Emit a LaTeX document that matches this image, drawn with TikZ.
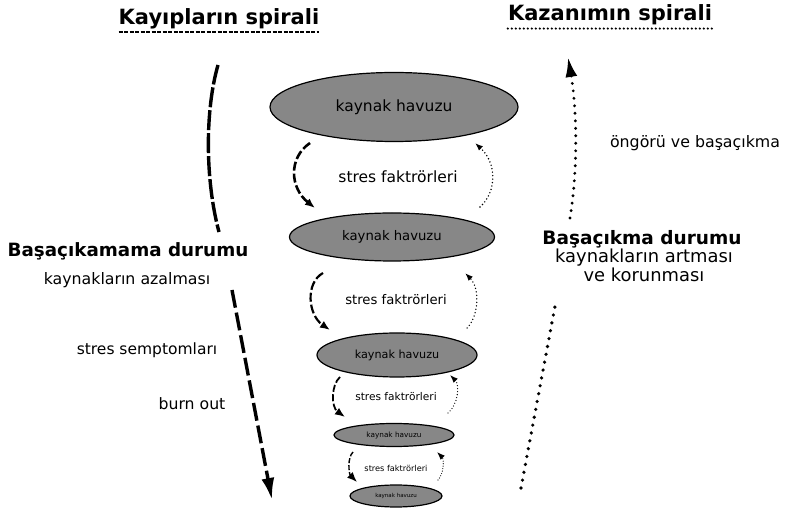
\documentclass[tikz,border=0pt]{standalone}
\usepackage{fontspec}
\setmainfont{DejaVu Sans}
\usepackage{xcolor}
\usetikzlibrary{arrows}
\usetikzlibrary{arrows.meta}
\usetikzlibrary{shapes.geometric}
\definecolor{poolgray}{RGB}{135,135,135}
\newcommand{\fsz}[1]{\fontsize{#1pt}{#1pt}\selectfont}

\tikzset{
pool/.style={ellipse, draw, line width=1.2, fill=poolgray, inner sep=0pt},
lbl/.style={anchor=base, inner sep=0pt},
title/.style={lbl, font=\bfseries\fsz{21}},
downarrow/.style={-{Latex[length=10pt,width=8pt]}, dash pattern=on 9pt off 3pt},
uparrow/.style={-{Latex[length=8pt,width=6pt]}, line cap=round, dash pattern=on 0pt off 3.5pt},
}

\begin{document}
\begin{tikzpicture}[x=1pt,y=-1pt]
\useasboundingbox (0,0) rectangle (788,510);

\node[title] (lossT) at (219,25) {Kayıpların spirali};
\node[title] (gainT) at (610,21) {Kazanımın spirali};
\draw[line width=1.8, dash pattern=on 4pt off 1.5pt] ([yshift=-2pt]lossT.south west) -- ([yshift=-2pt]lossT.south east);
\draw[line width=2.4, line cap=round, dash pattern=on 0pt off 4pt] ([yshift=-3pt]gainT.south west) -- ([yshift=-3pt]gainT.south east);

\node[pool, minimum width=248pt, minimum height=69pt, font=\fsz{15.5}] (P1) at (394,107) {kaynak havuzu};
\node[pool, minimum width=205pt, minimum height=48pt, font=\fsz{13.2}] (P2) at (392,237) {kaynak havuzu};
\node[pool, minimum width=160pt, minimum height=44pt, font=\fsz{11.2}] (P3) at (397,355) {kaynak havuzu};
\node[pool, minimum width=120pt, minimum height=23pt, font=\fsz{7.3}] (P4) at (394,435) {kaynak havuzu};
\node[pool, minimum width=92pt, minimum height=22pt, font=\fsz{5.5}] (P5) at (396,496) {kaynak havuzu};

\node[font=\fsz{15.5}] (S1) at (398,177) {stres faktrörleri};
\node[font=\fsz{13.2}] (S2) at (396,300) {stres faktrörleri};
\node[font=\fsz{10.6}] (S3) at (396,397) {stres faktrörleri};
\node[font=\fsz{8.2}] (S4) at (396,468) {stres faktrörleri};

\coordinate (d1a) at (310,143);
\coordinate (d1b) at (315,208);
\coordinate (u1a) at (480,207);
\coordinate (u1b) at (475,143);
\coordinate (d2a) at (323,273);
\coordinate (d2b) at (330,330);
\coordinate (u2a) at (467,328);
\coordinate (u2b) at (465,273);
\coordinate (d3a) at (340,377);
\coordinate (d3b) at (345,417);
\coordinate (u3a) at (448,413);
\coordinate (u3b) at (450,375);
\coordinate (d4a) at (353,452);
\coordinate (d4b) at (357,482);
\coordinate (u4a) at (438,480);
\coordinate (u4b) at (437,452);

\draw[downarrow, line width=2.6] (d1a) .. controls +(-22,15) and +(-25,-20) .. (d1b);
\draw[uparrow, line width=1.6] (u1a) .. controls +(17,-15) and +(22,20) .. (u1b);
\draw[downarrow, line width=2.2] (d2a) .. controls +(-18,10) and +(-22,-15) .. (d2b);
\draw[uparrow, line width=1.5] (u2a) .. controls +(12,-12) and +(15,15) .. (u2b);
\draw[downarrow, line width=1.8, dash pattern=on 7pt off 2.5pt] (d3a) .. controls +(-9,8) and +(-14,-10) .. (d3b);
\draw[uparrow, line width=1.3, dash pattern=on 0pt off 3pt] (u3a) .. controls +(10,-8) and +(10,10) .. (u3b);
\draw[downarrow, line width=1.4, dash pattern=on 5pt off 2pt] (d4a) .. controls +(-6,6) and +(-8,-8) .. (d4b);
\draw[uparrow, line width=1.2, dash pattern=on 0pt off 2.5pt] (u4a) .. controls +(6,-6) and +(7,7) .. (u4b);

\node[lbl, font=\bfseries\fsz{18.3}] (copeNo) at (128,257) {Başaçıkamama durumu};
\node[lbl, font=\fsz{15.8}] (copeNoSub) at (127,285) {kaynakların azalması};
\node[lbl, font=\fsz{15.5}] (symptoms) at (147,355) {stres semptomları};
\node[lbl, font=\fsz{15.7}] (burnout) at (192,410) {burn out};

\node[lbl, font=\bfseries\fsz{18.5}] (copeYes) at (642,245) {Başaçıkma durumu};
\node[lbl, font=\fsz{17.9}] (copeYesSub) at (644,263) {kaynakların artması};
\node[lbl, font=\fsz{17.9}] (copeYesSub2) at (644,282) {ve korunması};
\node[lbl, font=\fsz{15.8}] (foresight) at (695,148) {öngörü ve başaçıkma};

\coordinate (lossTop) at (218,65);
\coordinate (lossMid) at (219,232);
\coordinate (lossLow) at (232,290);
\coordinate (lossEnd) at (272,500);
\coordinate (gainLow) at (521,488);
\coordinate (gainMid) at (556,301);
\coordinate (gainLow2) at (570,218);
\coordinate (gainEnd) at (568,57);

\draw[line width=3.4, dash pattern=on 20pt off 3pt] (lossTop) .. controls (205,110) and (205,180) .. (lossMid);
\draw[-{Latex[length=22pt,width=13pt]}, line width=3.4, dash pattern=on 18pt off 5pt] (lossLow) -- (lossEnd);
\draw[line width=3.6, line cap=round, dash pattern=on 0pt off 8pt] (gainLow) -- (gainMid);
\draw[-{Latex[length=20pt,width=12pt]}, line width=3.2, line cap=round, dash pattern=on 0pt off 7.5pt] (gainLow2) .. controls (578,170) and (577,110) .. (gainEnd);
\end{tikzpicture}
\end{document}
